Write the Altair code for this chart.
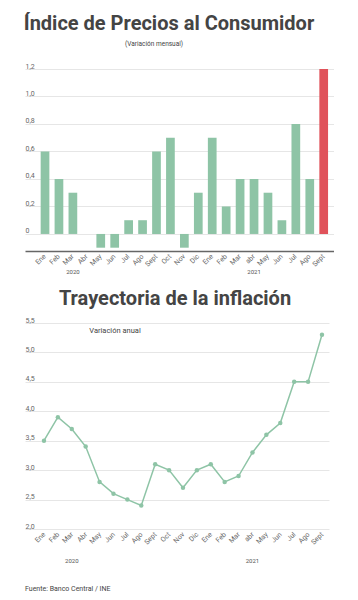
import altair as alt
import pandas as pd

# ---- data ----
months_2020 = ["Ene", "Feb", "Mar", "Abr", "May", "Jun", "Jul", "Ago", "Sept", "Oct", "Nov", "Dic"]
months_2021 = ["Ene", "Feb", "Mar", "abr", "May", "Jun", "Jul", "Ago", "Sept"]
monthly = [0.6, 0.4, 0.3, 0.0, -0.1, -0.1, 0.1, 0.1, 0.6, 0.7, -0.1, 0.3,
           0.7, 0.2, 0.4, 0.4, 0.3, 0.1, 0.8, 0.4, 1.2]
annual = [3.5, 3.9, 3.7, 3.4, 2.8, 2.6, 2.5, 2.4, 3.1, 3.0, 2.7, 3.0,
          3.1, 2.8, 2.9, 3.3, 3.6, 3.8, 4.5, 4.5, 5.3]
highlight = "Sept 2021"
year_labels = ["2020", "2021"]
year_label_at = ["Mar 2020", "abr 2021"]
top_ticks = [0, 0.2, 0.4, 0.6, 0.8, 1.0, 1.2]
bottom_ticks = [2.0, 2.5, 3.0, 3.5, 4.0, 4.5, 5.0, 5.5]

title_top = "Índice de Precios al Consumidor"
subtitle_top = "(Variación mensual)"
title_bottom = "Trayectoria de la inflación"
subtitle_bottom = "Variación anual"
source = "Fuente: Banco Central / INE"

keys = [f"{m} 2020" for m in months_2020] + [f"{m} 2021" for m in months_2021]
df = pd.DataFrame({"mes": keys, "mensual": monthly, "anual": annual})
years_df = pd.DataFrame({"mes": year_label_at, "label": year_labels})

GREEN = "#8ec4a6"
RED = "#e0525a"
TXT = "#444444"
FONT = "Roboto"

month_label = "split(datum.value, ' ')[0]"

# ---- top chart ----
x_top = alt.X(
    "mes:N", sort=keys, title=None,
    scale=alt.Scale(paddingInner=0.375, paddingOuter=0.775, align=0.725),
    axis=alt.Axis(labelExpr=month_label, labelAngle=-45, labelAlign="right",
                  labelBaseline="middle", labelPadding=4, ticks=False,
                  domain=True, domainColor="#666666", domainWidth=1.5, grid=False),
)
y_top = alt.Y(
    "mensual:Q", title=None,
    scale=alt.Scale(domain=[-0.124, 1.2], nice=False, zero=False),
    axis=alt.Axis(values=top_ticks,
                  labelExpr="datum.value == 0 ? '0' : replace(format(datum.value, '.1f'), '.', ',')",
                  labelAlign="left", labelBaseline="bottom", labelPadding=0,
                  tickSize=0, ticks=False, domain=False, grid=True),
)

bars = alt.Chart(df).mark_bar().encode(
    x=x_top, y=y_top, y2=alt.datum(0),
    color=alt.condition(alt.datum.mes == highlight, alt.value(RED), alt.value(GREEN)),
)
years_top = alt.Chart(years_df).mark_text(font=FONT, fontSize=6, color="#555555").encode(
    x=x_top, y=alt.value(203), text="label:N")
t1 = alt.Chart(pd.DataFrame({"t": [title_top]})).mark_text(
    font=FONT, fontSize=20, fontWeight="bold", color=TXT).encode(
    text="t:N", x=alt.value(144), y=alt.value(-45))
s1 = alt.Chart(pd.DataFrame({"t": [subtitle_top]})).mark_text(
    font=FONT, fontSize=6.5, color=TXT).encode(
    text="t:N", x=alt.value(129), y=alt.value(-25))

top = alt.layer(bars, years_top, t1, s1).properties(width=309, height=182)

# ---- bottom chart ----
x_bot = alt.X(
    "mes:N", sort=keys, title=None,
    scale=alt.Scale(type="point", padding=0.935, align=0.73),
    axis=alt.Axis(labelExpr=month_label, labelAngle=-45, labelAlign="right",
                  labelBaseline="middle", labelPadding=4, ticks=False,
                  domain=False, grid=False),
)
y_bot = alt.Y(
    "anual:Q", title=None,
    scale=alt.Scale(domain=[2.0, 5.5], nice=False, zero=False),
    axis=alt.Axis(values=bottom_ticks,
                  labelExpr="replace(format(datum.value, '.1f'), '.', ',')",
                  labelAlign="left", labelBaseline="bottom", labelPadding=0,
                  tickSize=0, ticks=False, domain=False, grid=True),
)
line = alt.Chart(df).mark_line(color=GREEN, strokeWidth=1.5).encode(x=x_bot, y=y_bot)
pts = alt.Chart(df).mark_point(filled=True, size=20, opacity=1, color=GREEN).encode(x=x_bot, y=y_bot)
years_bot = alt.Chart(years_df).mark_text(font=FONT, fontSize=6, color="#555555").encode(
    x=x_bot, y=alt.value(238), text="label:N")
t2 = alt.Chart(pd.DataFrame({"t": [title_bottom]})).mark_text(
    font=FONT, fontSize=20, fontWeight="bold", color=TXT).encode(
    text="t:N", x=alt.value(150), y=alt.value(-24))
s2 = alt.Chart(pd.DataFrame({"t": [subtitle_bottom]})).mark_text(
    font=FONT, fontSize=7.5, color=TXT).encode(
    text="t:N", x=alt.value(90), y=alt.value(7.5))
src = alt.Chart(pd.DataFrame({"t": [source]})).mark_text(
    font=FONT, fontSize=7, color=TXT, align="left").encode(
    text="t:N", x=alt.value(0), y=alt.value(266))

bottom = alt.layer(line, pts, years_bot, t2, s2, src).properties(width=304, height=206)

chart = alt.vconcat(top, bottom, spacing=72, bounds="flush").properties(
    padding={"left": 15, "top": 6, "right": 0, "bottom": 0}
).configure_view(stroke=None).configure_axis(
    labelFont=FONT, labelColor="#666666", labelFontSize=7, gridColor="#e6e6e6"
)

chart.save("out.html", embed_options={"renderer": "svg", "actions": False})
